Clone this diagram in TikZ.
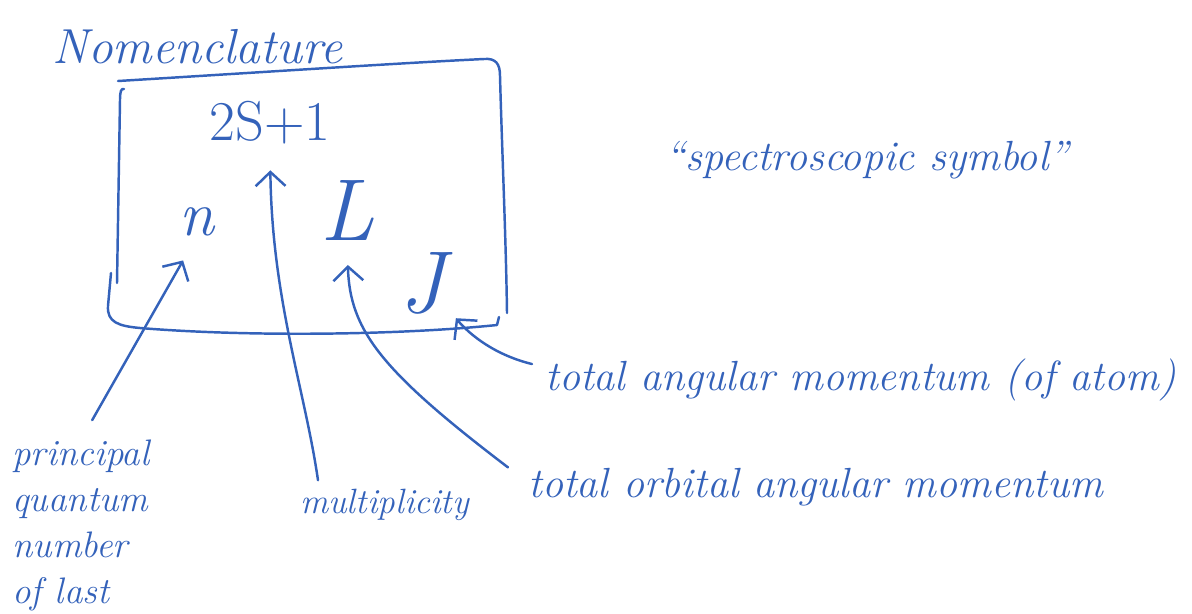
\documentclass[tikz,border=0pt]{standalone}
\usepackage{graphicx}
\usetikzlibrary{arrows.meta,calc}
\definecolor{pen}{RGB}{52,98,186}
\begin{document}
\begin{tikzpicture}[x=0.02cm,y=-0.02cm,
  pen/.style={draw=pen, line width=1.4pt, line cap=round, line join=round},
  arr/.style={pen, -{Straight Barb[length=8pt,width=17pt]}},
  ink/.style={text=pen, inner sep=0pt},
  label/.style={ink, anchor=base west, font=\fontsize{24}{29}\selectfont\itshape},
  letter/.style={ink, anchor=base}]
\useasboundingbox (0,0) rectangle (1192,613);

% heading
\node[ink, anchor=base west, font=\fontsize{28}{34}\selectfont\itshape] (title) at (52,63) {Nomenclature};

% hand-drawn frame around the term symbol
\draw[pen] (118,81) .. controls (250,73) and (400,63) .. (484,59)
  .. controls (496,58) and (500,64) .. (500,76)
  .. controls (502,150) and (506,240) .. (507,313);
\draw[pen] (124,89) .. controls (121,88) and (120,92) .. (120,100) -- (117,283);
\draw[pen] (111,273) -- (108,306) .. controls (107,322) and (118,326) .. (140,328)
  .. controls (250,337) and (400,335) .. (497,325) -- (499,317);

% the symbol and its parts
\node[letter, font=\fontsize{32}{36}\selectfont] (tsp) at (270,140) {2S+1};
\node[letter, font=\fontsize{36}{40}\selectfont\itshape] (n) at (197,235) {n};
\node[letter, font=\fontsize{50}{54}\selectfont\itshape] (L) at (347,240) {L};
\node[letter, font=\fontsize{50}{54}\selectfont\itshape] (J) at (422,312) {J};

\node[label] (spec) at (665,170) {``spectroscopic symbol''};

% explanations
\node[label] (tam) at (545,390) {total angular momentum (of atom)};
\node[label] (tom) at (528,497) {total orbital angular momentum};
\node[ink, anchor=base west, font=\fontsize{20}{24}\selectfont\itshape] (mult) at (300,513) {multiplicity};
\node[ink, anchor=north west, align=left, font=\fontsize{21}{26}\selectfont\itshape] (prin) at (12,440)
  {principal\\quantum\\number\\of last};

% pointers
\draw[arr, shorten <=13pt, shorten >=16pt] (prin.north) -- (n.south);
\draw[arr, shorten >=15pt] ($(mult.north west)+(18,-8)$) .. controls (305,390) and (272,300) .. (tsp.south);
\draw[arr, shorten >=14pt] ($(tom.north west)+(-20,0)$) .. controls (380,370) and (350,330) .. (L.south);
\draw[arr] ($(tam.north west)+(-13,6)$) .. controls (495,355) and (470,335) .. ($(J.south east)+(11,4)$);
\end{tikzpicture}
\end{document}
